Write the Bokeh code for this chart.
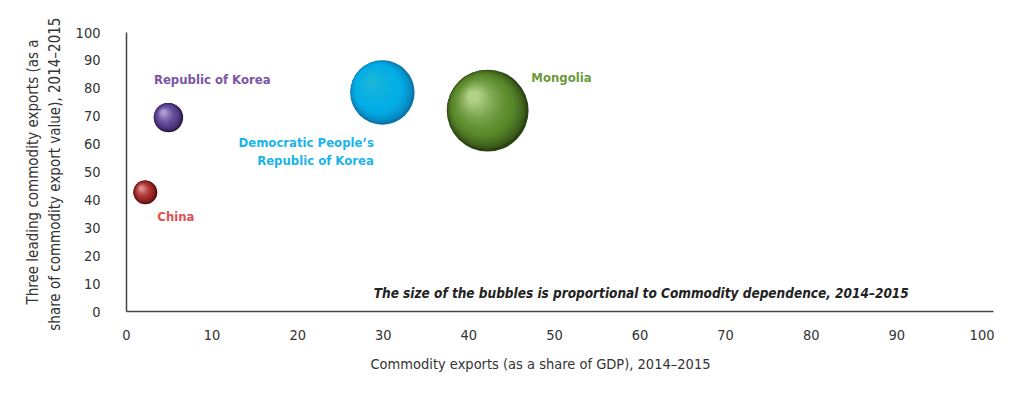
from bokeh.plotting import figure
from bokeh.models import ColumnDataSource, Range1d, FixedTicker, Label, Title
from bokeh.core.properties import value
from bokeh.embed import file_html
from bokeh.resources import INLINE

# ---- data ----
countries = ["China", "Republic of Korea", "Democratic People’s\nRepublic of Korea", "Mongolia"]
gdp_share = [2.2, 4.9, 29.9, 42.2]          # Commodity exports (% of GDP)
top3_share = [42.7, 69.5, 78.5, 72.0]       # Three leading commodity exports (% of commodity exports)
dependence = [26, 32, 70, 89]               # Commodity dependence (bubble size)
x_ticks = [0, 10, 20, 30, 40, 50, 60, 70, 80, 90, 100]
y_ticks = [0, 10, 20, 30, 40, 50, 60, 70, 80, 90, 100]

# ---- styling ----
edge_col = ["#4a0c0c", "#24163f", "#0a74aa", "#2a420f"]
base_col = ["#a22828", "#5a4290", "#03aee6", "#5a8a2c"]
hl_col = ["#e49a9a", "#b4a6da", "#1cb6d8", "#bcd890"]
text_col = ["#e0504f", "#7b55a5", "#19b5ea", "#6d9a3a"]
label_x = [3.6, 3.2, 28.9, 47.3]
label_y = [34.0, 83.2, 57.3, 83.9]
label_align = ["left", "left", "right", "left"]

FONT = "'DejaVu Sans Condensed', Roboto, sans-serif"
X_START, X_END = 0, 101.3
Y_START, Y_END = 0, 100
FRAME_W, FRAME_H = 867, 279
BL, BR, BT, BB = 126, 1, 32, 72
px_x = FRAME_W / (X_END - X_START)
px_y = FRAME_H / (Y_END - Y_START)
SIZE_K = 0.92

diam = [d * SIZE_K for d in dependence]


def hex2rgb(h):
    h = h.lstrip("#")
    return [int(h[i:i + 2], 16) for i in (0, 2, 4)]


def mix(a, b, t):
    ra, rb = hex2rgb(a), hex2rgb(b)
    return "#%02x%02x%02x" % tuple(int(round(x + (y - x) * t)) for x, y in zip(ra, rb))


p = figure(width=BL + FRAME_W + BR, height=BT + FRAME_H + BB,
           x_range=Range1d(X_START, X_END), y_range=Range1d(Y_START, Y_END),
           output_backend="svg", toolbar_location=None,
           min_border_left=BL, min_border_right=BR, min_border_top=BT, min_border_bottom=BB)
p.outline_line_color = None
p.grid.visible = False
p.background_fill_color = "white"
p.border_fill_color = "white"

# bubbles: many layered circles imitating shaded spheres
N = 22
for i in range(N):
    s = i / (N - 1)                 # 0 (outer) .. 1 (inner highlight)
    frac = 1.0 - 0.85 * s
    off = 0.17 * s ** 0.8
    cols = []
    for e, b, h in zip(edge_col, base_col, hl_col):
        if s < 0.3:
            cols.append(mix(e, b, (s / 0.3) ** 0.6))
        else:
            cols.append(mix(b, h, ((s - 0.3) / 0.7) ** 1.4 * 0.9))
    src = ColumnDataSource(dict(
        x=[gx - off * d / px_x for gx, d in zip(gdp_share, diam)],
        y=[ty + off * d / px_y for ty, d in zip(top3_share, diam)],
        size=[d * frac for d in diam],
        color=cols,
    ))
    p.scatter("x", "y", size="size", source=src, fill_color="color",
              fill_alpha=1.0, line_color=None)

lsrc = ColumnDataSource(dict(x=label_x, y=label_y, text=countries,
                             color=text_col, align=label_align))
p.text("x", "y", text="text", source=lsrc, text_color="color", text_align="align",
       text_baseline="middle", text_font=value(FONT), text_font_style="bold",
       text_font_size="13px", text_line_height=1.2)

p.add_layout(Label(x=91.4, y=6.5, text="The size of the bubbles is proportional to Commodity dependence, 2014–2015",
                   text_align="right", text_baseline="middle", text_font=FONT,
                   text_font_style="bold italic", text_font_size="13.5px", text_color="#222222"))

# axes
p.xaxis.ticker = FixedTicker(ticks=x_ticks)
p.yaxis.ticker = FixedTicker(ticks=y_ticks)
for ax in (p.xaxis, p.yaxis):
    ax.axis_line_color = "#444444"
    ax.axis_line_width = 1.5
    ax.major_tick_line_color = None
    ax.minor_tick_line_color = None
    ax.major_label_text_font = FONT
    ax.major_label_text_font_size = "14.5px"
    ax.major_label_text_color = "#333333"
    ax.axis_label_text_font = FONT
    ax.axis_label_text_font_size = "15px"
    ax.axis_label_text_font_style = "normal"
    ax.axis_label_text_color = "#333333"
p.xaxis.major_label_standoff = 12
p.yaxis.major_label_standoff = 20
p.yaxis.axis_label = "Three leading commodity exports (as a\nshare  of commodity export value), 2014–2015"
p.yaxis.axis_label_standoff = 9

# x-axis title, set left of centre as in the original
p.add_layout(Title(text="Commodity exports (as a share of GDP), 2014–2015", align="left",
                   offset=244, standoff=22, text_font=FONT, text_font_size="14.5px",
                   text_font_style="normal", text_color="#333333"), "below")

open("out.html", "w").write(file_html(p, INLINE))
